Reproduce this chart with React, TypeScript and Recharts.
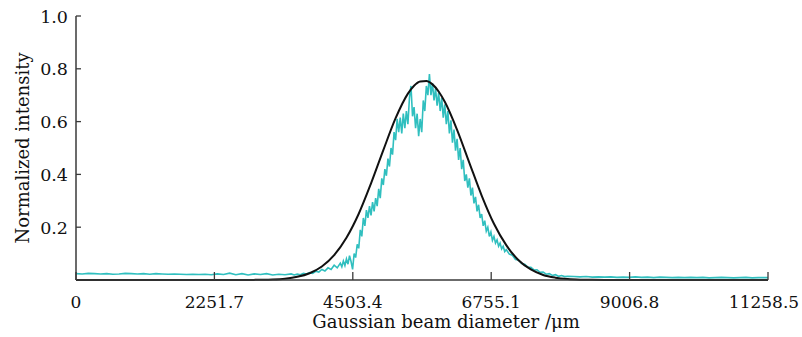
import React from "react";
import { LineChart, Line, XAxis, YAxis } from "recharts";

// x positions (µm) and normalized intensity of the measured profile
const beamX = [
  0, 100, 200, 300, 400, 500, 600, 700, 800, 900, 1000, 1100, 1200, 1300, 1400, 1500, 1600, 1700, 1800, 1900,
  2000, 2100, 2200, 2300, 2400, 2500, 2600, 2700, 2800, 2900, 3000, 3100, 3200, 3300, 3400, 3500,
  3550, 3600, 3650, 3700, 3750, 3800, 3850, 3900, 3950, 4000, 4050, 4100, 4150, 4200, 4250, 4300,
  4325, 4350, 4375, 4400, 4425, 4450, 4475, 4500, 4525, 4550, 4575, 4600, 4625, 4650, 4675, 4700,
  4725, 4750, 4775, 4800, 4825, 4850, 4875, 4900, 4925, 4950, 4975, 5000, 5025, 5050, 5075, 5100,
  5125, 5150, 5175, 5200, 5225, 5250, 5275, 5300, 5325, 5350, 5375, 5400, 5425, 5450, 5475, 5500,
  5525, 5550, 5575, 5600, 5625, 5650, 5675, 5700, 5725, 5750, 5775, 5800, 5825, 5850, 5875, 5900,
  5925, 5950, 5975, 6000, 6025, 6050, 6075, 6100, 6125, 6150, 6175, 6200, 6225, 6250, 6275, 6300,
  6325, 6350, 6375, 6400, 6425, 6450, 6475, 6500, 6525, 6550, 6575, 6600, 6625, 6650, 6675, 6700,
  6725, 6750, 6775, 6800, 6825, 6850, 6875, 6900, 6925, 6950, 6975, 7000,
  7050, 7100, 7150, 7200, 7250, 7300, 7350, 7400, 7450, 7500, 7550, 7600, 7650, 7700, 7750, 7800,
  7850, 7900, 7950, 8000, 8100, 8200, 8300, 8400, 8500, 8600, 8700, 8800, 8900, 9000, 9100, 9200,
  9300, 9400, 9500, 9600, 9700, 9800, 9900, 10000, 10100, 10200, 10300, 10400, 10500, 10600, 10700,
  10800, 10900, 11000, 11100, 11258.5,
];
const beamY = [
  0.024, 0.023, 0.025, 0.024, 0.023, 0.024, 0.022, 0.023, 0.025, 0.024, 0.023, 0.024, 0.022, 0.024, 0.023, 0.022, 0.023, 0.022, 0.021, 0.022,
  0.021, 0.022, 0.02, 0.023, 0.021, 0.026, 0.02, 0.024, 0.019, 0.023, 0.021, 0.024, 0.019, 0.022, 0.02, 0.023,
  0.019, 0.022, 0.02, 0.025, 0.023, 0.028, 0.025, 0.033, 0.03, 0.04, 0.034, 0.046, 0.04, 0.056, 0.046, 0.064,
  0.05, 0.072, 0.055, 0.08, 0.06, 0.092, 0.07, 0.04, 0.1, 0.085, 0.135, 0.12, 0.19, 0.165, 0.235, 0.205,
  0.265, 0.235, 0.28, 0.245, 0.295, 0.26, 0.31, 0.28, 0.345, 0.31, 0.385, 0.36, 0.42, 0.395, 0.46, 0.43,
  0.5, 0.475, 0.56, 0.53, 0.61, 0.56, 0.615, 0.555, 0.63, 0.575, 0.64, 0.59, 0.69, 0.735, 0.62, 0.655,
  0.575, 0.63, 0.545, 0.61, 0.56, 0.68, 0.64, 0.735, 0.7, 0.78, 0.7, 0.745, 0.68, 0.725, 0.66, 0.71,
  0.64, 0.69, 0.615, 0.665, 0.59, 0.64, 0.555, 0.605, 0.52, 0.57, 0.49, 0.535, 0.455, 0.5, 0.42, 0.455,
  0.375, 0.4, 0.35, 0.385, 0.32, 0.35, 0.29, 0.315, 0.26, 0.285, 0.235, 0.25, 0.205, 0.225, 0.185, 0.2,
  0.165, 0.182, 0.15, 0.165, 0.14, 0.152, 0.128, 0.14, 0.118, 0.128, 0.108, 0.115,
  0.098, 0.094, 0.078, 0.076, 0.062, 0.06, 0.049, 0.048, 0.038, 0.039, 0.029, 0.03, 0.022, 0.024, 0.017, 0.02,
  0.014, 0.017, 0.013, 0.014, 0.013, 0.012, 0.013, 0.011, 0.012, 0.011, 0.012, 0.01, 0.011, 0.01, 0.012, 0.01,
  0.011, 0.009, 0.011, 0.01, 0.009, 0.01, 0.009, 0.01, 0.009, 0.01, 0.008, 0.009, 0.01, 0.009, 0.008,
  0.009, 0.01, 0.008, 0.009, 0.009,
];

// fitted Gaussian
const fitX = [
  0, 2600, 2800, 3000, 3200, 3400, 3600, 3800, 4000, 4200, 4400, 4600, 4800, 5000, 5200, 5400, 5500, 5600,
  5700, 5800, 5900, 6000, 6200, 6400, 6600, 6800, 7000, 7200, 7400, 7600, 7800, 8000, 8200, 8400, 8600,
  9000, 11258.5,
];
const fitY = [
  0, 0, 0.0003, 0.0008, 0.002, 0.0051, 0.012, 0.0257, 0.051, 0.094, 0.16, 0.251, 0.366, 0.492, 0.613, 0.706, 0.736, 0.752,
  0.754, 0.741, 0.714, 0.675, 0.569, 0.444, 0.32, 0.213, 0.132, 0.075, 0.04, 0.019, 0.0088, 0.0037, 0.0014, 0.0005, 0.0002,
  0, 0,
];

const xTicks = [0, 2251.7, 4503.4, 6755.1, 9006.8, 11258.5];
const yTicks = [0.2, 0.4, 0.6, 0.8, 1.0];

const beamData = beamX.map((x, i) => ({ x, y: beamY[i] }));
const fitData = fitX.map((x, i) => ({ x, y: fitY[i] }));

const FONT = "'DejaVu Serif', 'Liberation Serif', serif";
const FRAME = "#3a3a3a";

function XTick(props: any) {
  const { x, y, payload, index, visibleTicksCount } = props;
  // keep the last label inside the picture
  const shift = index === visibleTicksCount - 1 ? -4 : 0;
  return (
    <g>
      <line x1={x} x2={x} y1={y} y2={y - 8} stroke={FRAME} strokeWidth={1.3} />
      <text x={x + shift} y={y + 28} textAnchor="middle" fontSize={17} fontFamily={FONT} fill="#111">
        {String(payload.value)}
      </text>
    </g>
  );
}

function YTick(props: any) {
  const { x, y, payload } = props;
  return (
    <g>
      <line x1={x} x2={x + 5} y1={y} y2={y} stroke={FRAME} strokeWidth={1.3} />
      <text x={x - 8} y={y + 6.5} textAnchor="end" fontSize={17.5} fontFamily={FONT} fill="#111">
        {Number(payload.value).toFixed(1)}
      </text>
    </g>
  );
}

export default function App() {
  return (
    <div style={{ position: "absolute", left: 0, top: 0, background: "#fff" }}>
      <LineChart width={802} height={337} margin={{ top: 16, right: 34, bottom: 0, left: 0 }}>
        <XAxis
          dataKey="x"
          type="number"
          domain={[0, 11258.5]}
          ticks={xTicks}
          tick={<XTick />}
          tickLine={false}
          tickSize={0}
          tickMargin={0}
          height={57}
          axisLine={{ stroke: FRAME, strokeWidth: 1.5 }}
          label={{
            value: "Gaussian beam diameter /μm",
            position: "insideBottom",
            offset: 9,
            dx: 24,
            fontSize: 18,
            fontFamily: FONT,
            fill: "#111",
          }}
        />
        <XAxis
          xAxisId="top"
          orientation="top"
          type="number"
          dataKey="x"
          domain={[0, 11258.5]}
          height={0}
          tick={false}
          tickLine={false}
          axisLine={{ stroke: FRAME, strokeWidth: 1.5 }}
        />
        <YAxis
          type="number"
          domain={[0, 1]}
          ticks={yTicks}
          tick={<YTick />}
          tickLine={false}
          tickSize={0}
          tickMargin={0}
          width={76}
          axisLine={{ stroke: FRAME, strokeWidth: 1.5 }}
          label={{
            value: "Normalized intensity",
            angle: -90,
            position: "insideLeft",
            offset: 23,
            textAnchor: "middle",
            fontSize: 18,
            fontFamily: FONT,
            fill: "#111",
          }}
        />
        <YAxis
          yAxisId="right"
          orientation="right"
          type="number"
          domain={[0, 1]}
          width={0}
          tick={false}
          tickLine={false}
          axisLine={{ stroke: FRAME, strokeWidth: 1.5 }}
        />
        <Line
          data={beamData}
          dataKey="y"
          type="linear"
          stroke="#30bfbf"
          strokeWidth={1.6}
          dot={false}
          isAnimationActive={false}
        />
        <Line
          data={fitData}
          dataKey="y"
          type="monotone"
          stroke="#111"
          strokeWidth={2}
          dot={false}
          isAnimationActive={false}
        />
      </LineChart>
    </div>
  );
}
